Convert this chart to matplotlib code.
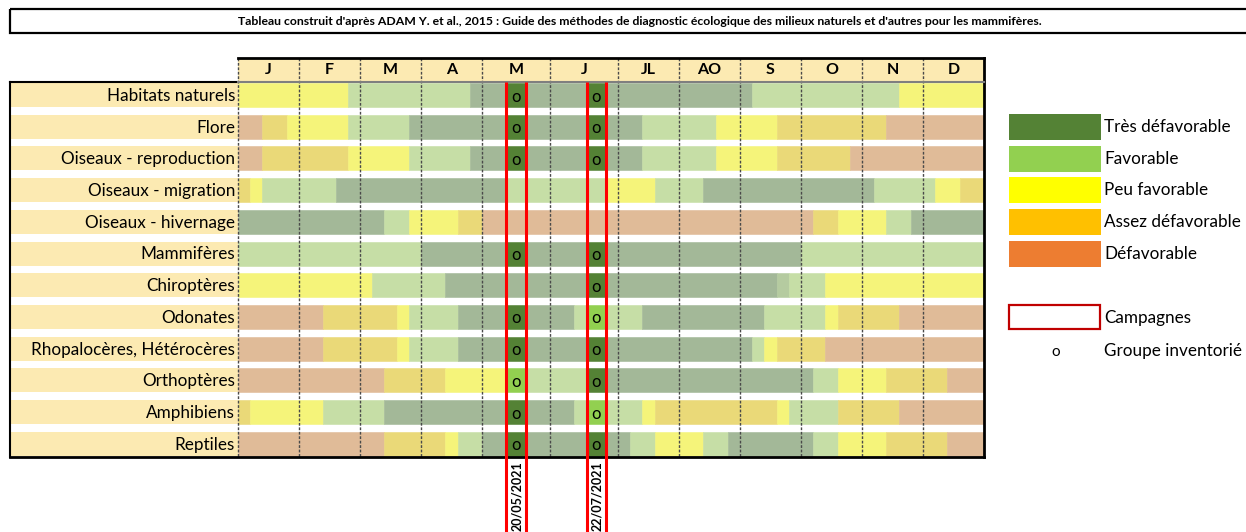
import matplotlib
matplotlib.use('Agg')
import matplotlib.pyplot as plt
import numpy as np

plt.rcParams['font.family'] = ['Lato', 'DejaVu Sans']

titre = ("Tableau construit d'après ADAM Y. et al., 2015 : Guide des méthodes de diagnostic "
         "écologique des milieux naturels et d'autres pour les mammifères.")

mois = ['J', 'F', 'M', 'A', 'M', 'J', 'JL', 'AO', 'S', 'O', 'N', 'D']
groupes = ['Habitats naturels', 'Flore', 'Oiseaux - reproduction', 'Oiseaux - migration',
           'Oiseaux - hivernage', 'Mammifères', 'Chiroptères', 'Odonates',
           'Rhopalocères, Hétérocères', 'Orthoptères', 'Amphibiens', 'Reptiles']

# 5 sous-colonnes par mois ; en mai et juin l'une d'elles est la colonne de campagne
# T F P A D : classes (couleur pâle), M : intermédiaire, minuscule : groupe inventorié
periodes = [
    "PPPPP PPPPF FFFFF FFFFT TTtTT TTTtT TTTTT TTTTT TFFFF FFFFF FFFPP PPPPP",
    "DDAAP PPPPF FFFFT TTTTT TTtTT TTTtT TTFFF FFFPP PPPAA AAAAA AADDD DDDDD",
    "DDAAA AAAAP PPPPF FFFFT TTtTT TTTtT TTFFF FFFPP PPPAA AAAAD DDDDD DDDDD",
    "APFFF FFFTT TTTTT TTTTT TTFFF FFFFP PPPFF FFTTT TTTTT TTTTT TFFFF FPPAA",
    "TTTTT TTTTT TTFFP PPPAA DDDDD DDDDD DDDDD DDDDD DDDDD DAAPP PPFFT TTTTT",
    "FFFFF FFFFF FFFFF TTTTT TTtTT TTTtT TTTTT TTTTT TTTTT FFFFF FFFFF FFFFF",
    "PPPPP PPPPP PFFFF FFTTT TTTTT TTTtT TTTTT TTTTT TTTMF FFPPP PPPPP PPPPP",
    "DDDDD DDAAA AAAPF FFFTT TTtTT TTFfF FFTTT TTTTT TTFFF FFPAA AAADD DDDDD",
    "DDDDD DDAAA AAAPF FFFTT TTtTT TTTtT TTTTT TTTTT TFPAA AADDD DDDDD DDDDD",
    "DDDDD DDDDD DDAAA AAPPP PPfFF FFFtT TTTTT TTTTT TTTTT TFFPP PPAAA AADDD",
    "APPPP PPFFF FFTTT TTTTT TTtTT TTFfF FFPAA AAAAA AAAPF FFFAA AAADD DDDDD",
    "DDDDD DDDDD DDAAA AAPFF TTtTT TTTtT TFFPP PPFFT TTTTT TFFPP PPAAA AADDD",
]
campagnes = ['20/05/2021', '22/07/2021']
col_campagne = [22, 28]

classes = ['Très défavorable', 'Favorable', 'Peu favorable', 'Assez défavorable', 'Défavorable']
codes = ['T', 'F', 'P', 'A', 'D']
couleurs = ['#548235', '#92D050', '#FFFF00', '#FFC000', '#ED7D31']
couleurs_pales = ['#A3B898', '#C6DEA6', '#F5F47A', '#EAD978', '#E0BB98']

pale = dict(zip(codes, couleurs_pales))
pale['M'] = '#B5CBA0'
vive = dict(zip([c.lower() for c in codes], couleurs))

fond = '#FCEAB2'
W, H = 1246, 532
fig = plt.figure(figsize=(W / 100, H / 100), dpi=100)

# fond en pixels : titre et legende
bg = fig.add_axes([0, 0, 1, 1])
bg.set_xlim(0, W)
bg.set_ylim(H, 0)
bg.axis('off')

# tableau : 1 unite = une sous-colonne (12.2 px), une ligne = 31.7 px
u, pas = 12.2, 31.7
larg = np.ones(60)
larg[col_campagne] = 19.2 / u
bords = np.concatenate([[0], np.cumsum(larg)])
total = bords[-1]
lab_w = 228 / u
h = 24 / pas
y_haut, y_bas = (58 - 95) / pas, (457 - 95) / pas
y_entete = (70 - 95) / pas
y_ligne = (82 - 95) / pas

x0 = 238 - lab_w * u
ax = fig.add_axes([x0 / W, (H - 457) / H, (lab_w + total) * u / W, (457 - 58) / H])
ax.set_xlim(-lab_w, total)
ax.set_ylim(y_bas, y_haut)
ax.axis('off')
ax.patch.set_alpha(0)

# entete des mois
ax.barh(y_entete, total, left=0, height=h, color=fond, linewidth=0)
for k, m in enumerate(mois):
    xm = (bords[5 * k] + bords[5 * k + 5]) / 2
    ax.text(xm, y_entete, m, ha='center', va='center', fontsize=11.5, fontweight='bold')

for i, (nom, s) in enumerate(zip(groupes, periodes)):
    s = s.replace(' ', '')
    ax.barh(i, lab_w, left=-lab_w, height=h, color=fond, linewidth=0)
    ax.text(-0.25, i + 0.03, nom, ha='right', va='center', fontsize=12.3)
    j = 0
    while j < len(s):
        c = s[j]
        k = j
        while k + 1 < len(s) and s[k + 1] == c and c.isupper():
            k += 1
        col = pale[c] if c.isupper() else vive[c]
        ax.barh(i, bords[k + 1] - bords[j], left=bords[j], height=h, color=col,
                linewidth=0.4, edgecolor=col)
        if c.islower():
            ax.text((bords[j] + bords[j + 1]) / 2, i + 0.05, 'o', ha='center', va='center',
                    fontsize=12)
        j = k + 1

# separateurs de mois
for k in range(12):
    xs = bords[5 * k]
    ax.plot([xs, xs], [y_haut, y_bas], color='#4a4a4a', lw=1, ls=(0, (2, 1.2)), clip_on=False)

# bordures
ax.plot([total, total], [y_haut, y_bas], color='black', lw=2, clip_on=False)
ax.plot([0, total], [y_haut, y_haut], color='black', lw=2, clip_on=False)
ax.plot([-lab_w, total], [y_bas, y_bas], color='black', lw=2, clip_on=False)
ax.plot([-lab_w, -lab_w], [y_ligne, y_bas], color='black', lw=1.5, clip_on=False)
ax.plot([-lab_w, 0], [y_ligne, y_ligne], color='black', lw=1.5, clip_on=False)
ax.plot([0, total], [y_ligne, y_ligne], color='#7f7f7f', lw=1.5, clip_on=False)

# campagnes
y_fin = (545 - 95) / pas
for cc, date in zip(col_campagne, campagnes):
    for xb in (bords[cc], bords[cc + 1]):
        ax.plot([xb, xb], [y_ligne, y_fin], color='#FF0000', lw=2.2, clip_on=False,
                solid_capstyle='butt')
    ax.text((bords[cc] + bords[cc + 1]) / 2 + 0.05, (461 - 95) / pas, date, rotation=90,
            ha='center', va='top', fontsize=9, fontweight='bold', clip_on=False)

# titre
bg.add_patch(plt.Rectangle((10, 9), W, 24, fill=False, edgecolor='black', lw=1.6))
t = bg.text(640, 21.5, titre, ha='center', va='center', fontsize=8, fontweight='bold')
fig.canvas.draw()
t.set_fontsize(8 * 816 / t.get_window_extent().width)

# legende
for k, (lab, col) in enumerate(zip(classes, couleurs)):
    top = 114 + k * pas
    bg.add_patch(plt.Rectangle((1009, top), 92, 26, color=col, lw=0))
    bg.text(1104, top + 13, lab, ha='left', va='center', fontsize=12.3)
bg.add_patch(plt.Rectangle((1009, 305), 91, 24, fill=False, edgecolor='#C00000', lw=1.6))
bg.text(1104, 318, 'Campagnes', ha='left', va='center', fontsize=12.3)
bg.text(1056, 352, 'o', ha='center', va='center', fontsize=11)
bg.text(1104, 351, 'Groupe inventorié', ha='left', va='center', fontsize=12.3)

fig.savefig('out.png', dpi=100)
